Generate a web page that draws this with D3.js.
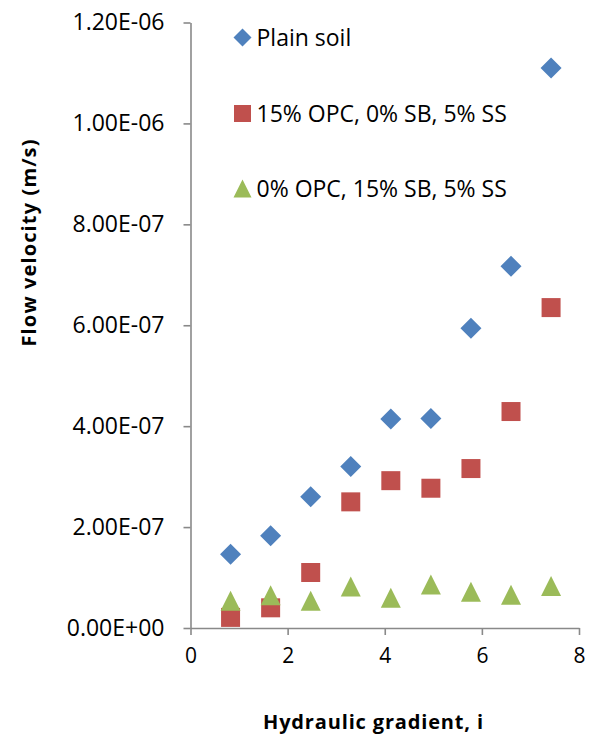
<!DOCTYPE html>
<html>
<head>
<meta charset="utf-8">
<script src="https://cdn.jsdelivr.net/npm/d3@7"></script>
<style>
  html, body { margin: 0; padding: 0; background: #fff; }
  svg { display: block; }
</style>
</head>
<body>
<svg id="chart" width="595" height="734"></svg>
<script>
// Hydraulic gradient (x) for every test step
const gradient = [0.825, 1.65, 2.475, 3.3, 4.125, 4.95, 5.775, 6.6, 7.425];

// Flow velocity (m/s) for each mix
const plainSoil = [1.46e-7, 1.83e-7, 2.60e-7, 3.20e-7, 4.14e-7, 4.15e-7, 5.94e-7, 7.17e-7, 1.11e-6];
const opcMix    = [0.21e-7, 0.40e-7, 1.10e-7, 2.50e-7, 2.92e-7, 2.77e-7, 3.16e-7, 4.29e-7, 6.35e-7];
const sbMix     = [0.54e-7, 0.65e-7, 0.54e-7, 0.82e-7, 0.60e-7, 0.86e-7, 0.72e-7, 0.66e-7, 0.83e-7];

const seriesNames = ["Plain soil", "15% OPC, 0% SB, 5% SS", "0% OPC, 15% SB, 5% SS"];

const xTicks = [0, 2, 4, 6, 8];
const yTicks = [0, 2e-7, 4e-7, 6e-7, 8e-7, 1e-6, 1.2e-6];

const xTitle = "Hydraulic gradient, i";
const yTitle = "Flow velocity (m/s)";

// ---- layout ----
const svg = d3.select("#chart");
const FONT = "'Open Sans', 'Liberation Sans', sans-serif";
const AXIS_COLOR = "#898989";

const x = d3.scaleLinear().domain([0, 8]).range([190.5, 579]);
const y = d3.scaleLinear().domain([0, 1.2e-6]).range([628, 22.5]);

// Excel-style scientific label: 1.20E-06, 0.00E+00
function sci(v) {
  const [m, e] = v.toExponential(2).split("e");
  const n = parseInt(e, 10);
  return m.toUpperCase() + "E" + (n < 0 ? "-" : "+") + String(Math.abs(n)).padStart(2, "0");
}

// ---- marker shapes ----
const diamond = {
  draw(ctx, s) { // s = half-diagonal
    ctx.moveTo(0, -s); ctx.lineTo(s, 0); ctx.lineTo(0, s); ctx.lineTo(-s, 0); ctx.closePath();
  }
};
const square = {
  draw(ctx, s) { // s = half-side
    ctx.moveTo(-s, -s); ctx.lineTo(s, -s); ctx.lineTo(s, s); ctx.lineTo(-s, s); ctx.closePath();
  }
};
const triangle = {
  draw(ctx, s) { // s = half-width; height equal to width
    ctx.moveTo(0, -s); ctx.lineTo(s, s); ctx.lineTo(-s, s); ctx.closePath();
  }
};

const series = [
  { name: seriesNames[0], values: plainSoil, shape: diamond,  size: 10.5, legendSize: 9,   color: "#4F81BD" },
  { name: seriesNames[1], values: opcMix,    shape: square,   size: 9.5,  legendSize: 8.5, color: "#C0504D" },
  { name: seriesNames[2], values: sbMix,     shape: triangle, size: 10,   legendSize: 9,   color: "#9BBB59" }
];

// ---- axes ----
const yAxis = d3.axisLeft(y).tickValues(yTicks).tickFormat(sci).tickSize(7).tickSizeOuter(0).tickPadding(19);
const gy = svg.append("g").attr("transform", `translate(${x(0)},0)`).call(yAxis);

const xAxis = d3.axisBottom(x).tickValues(xTicks).tickFormat(d3.format("d")).tickSize(7).tickSizeOuter(0).tickPadding(13);
const gx = svg.append("g").attr("transform", `translate(0,${y(0)})`).call(xAxis);

[gx, gy].forEach(g => {
  g.selectAll("path.domain").attr("stroke", AXIS_COLOR).attr("stroke-width", 1.6);
  g.selectAll(".tick line").attr("stroke", AXIS_COLOR).attr("stroke-width", 1.6);
  g.selectAll(".tick text")
    .attr("fill", "#000")
    .style("font-family", FONT);
});
gy.selectAll(".tick text").style("font-size", "23px");
gx.selectAll(".tick text").style("font-size", "21px");

// ---- axis titles ----
svg.append("text")
  .attr("x", 373).attr("y", 729)
  .attr("text-anchor", "middle")
  .attr("textLength", 220).attr("lengthAdjust", "spacing")
  .style("font-family", FONT).style("font-weight", "bold").style("font-size", "20px")
  .text(xTitle);

svg.append("text")
  .attr("transform", "translate(35.5,243) rotate(-90)")
  .attr("text-anchor", "middle")
  .attr("textLength", 207).attr("lengthAdjust", "spacing")
  .style("font-family", FONT).style("font-weight", "bold").style("font-size", "20px")
  .text(yTitle);

// ---- data markers ----
series.forEach(s => {
  svg.append("g")
    .selectAll("path")
    .data(gradient.map((g, i) => ({ g, v: s.values[i] })))
    .join("path")
    .attr("transform", d => `translate(${x(d.g)},${y(d.v)})`)
    .attr("d", d3.symbol().type(s.shape).size(s.size))
    .attr("fill", s.color);
});

// ---- legend ----
const legendY = [37.5, 113.5, 188.5];
const legend = svg.append("g");
series.forEach((s, i) => {
  legend.append("path")
    .attr("transform", `translate(242.5,${legendY[i]})`)
    .attr("d", d3.symbol().type(s.shape).size(s.legendSize))
    .attr("fill", s.color);
  legend.append("text")
    .attr("x", 256.5).attr("y", legendY[i])
    .attr("dy", "0.35em")
    .style("font-family", FONT).style("font-size", "23px")
    .attr("fill", "#000")
    .text(s.name);
});
</script>
</body>
</html>
